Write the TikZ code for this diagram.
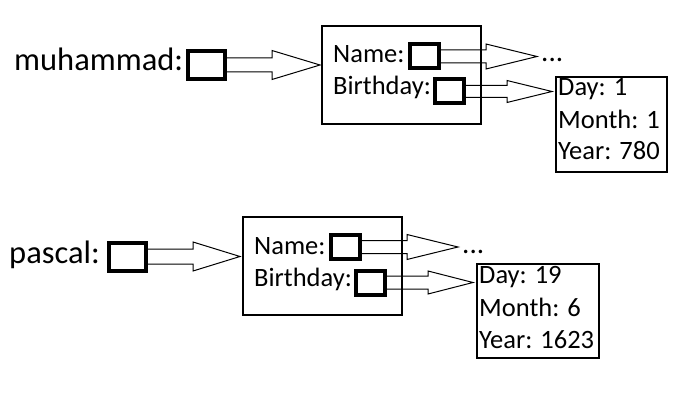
\documentclass[tikz,border=0pt]{standalone}
\usepackage{fontspec}
\setmainfont{Carlito}
\usetikzlibrary{calc}
\newcommand\hollowarrow[5]{%
  \draw[arrowline] let \p1=(#1.east), \p2=(#2) in
    (\x1,\y1+#3) -- (\x2-#5,\y1+#3) -- (\x2-#5,\y1+#4) -- (\x2,\y1)
    -- (\x2-#5,\y1-#4) -- (\x2-#5,\y1-#3) -- (\x1,\y1-#3);}
\begin{document}
\begin{tikzpicture}[x=1pt,y=-1pt,
  ptr/.style={draw,line width=4pt,inner sep=0pt,minimum width=29pt,minimum height=24pt},
  bigptr/.style={ptr,minimum width=37pt,minimum height=28pt},
  frame/.style={draw,line width=1.2pt,inner sep=0pt},
  lbl/.style={anchor=base west,inner sep=0pt,font=\fontsize{26.5}{33}\selectfont},
  dotlbl/.style={lbl,font=\fontsize{29}{33}\selectfont},
  biglbl/.style={lbl,font=\fontsize{32.5}{40}\selectfont},
  arrowline/.style={line width=1pt,line join=miter}]
\useasboundingbox (0,0) rectangle (693,414);

% ---------- muhammad ----------
\node[biglbl] (lm) at (14,71) {muhammad:};
\node[bigptr] (p1) at (206,65) {};
\node[frame,minimum width=159pt,minimum height=98pt] (s1) at (401.5,75) {};
\node[lbl] (nm1) at (333,63) {Name:};
\node[ptr] (n1) at (424.5,56.5) {};
\node[dotlbl] (dots1) at (541,62) {...};
\node[lbl] (bd1) at (333,95) {Birthday:};
\node[ptr] (b1) at (449.5,91.5) {};
\node[frame,minimum width=111pt,minimum height=95pt] (d1) at (611.5,124.5) {};
\node[lbl] (day1) at (558,96) {Day: 1};
\node[lbl] (mon1) at (558,129) {Month: 1};
\node[lbl] (yr1) at (558,160) {Year: 780};
\coordinate (t1) at (320,65);
\coordinate (t2) at (537,56.5);
\coordinate (t3) at (552,91.5);
\hollowarrow{p1}{t1}{7pt}{14.5pt}{48pt}
\hollowarrow{n1}{t2}{6.5pt}{12.5pt}{51pt}
\hollowarrow{b1}{t3}{6pt}{11pt}{45pt}

% ---------- pascal ----------
\node[biglbl] (lp) at (9,263) {pascal:};
\node[bigptr] (p2) at (127,256.5) {};
\node[frame,minimum width=159pt,minimum height=98pt] (s2) at (322.5,266) {};
\node[lbl] (nm2) at (254,254) {Name:};
\node[ptr] (n2) at (345.5,247) {};
\node[dotlbl] (dots2) at (462,253) {...};
\node[lbl] (bd2) at (254,286) {Birthday:};
\node[ptr] (b2) at (370.5,282.5) {};
\node[frame,minimum width=122pt,minimum height=94pt] (d2) at (538,311) {};
\node[lbl] (day2) at (479,283) {Day: 19};
\node[lbl] (mon2) at (479,316) {Month: 6};
\node[lbl] (yr2) at (479,348) {Year: 1623};
\coordinate (t4) at (240,256.5);
\coordinate (t5) at (458,247);
\coordinate (t6) at (473,282.5);
\hollowarrow{p2}{t4}{7.5pt}{14.5pt}{47pt}
\hollowarrow{n2}{t5}{6.5pt}{12.5pt}{51pt}
\hollowarrow{b2}{t6}{6.5pt}{11.5pt}{45pt}
\end{tikzpicture}
\end{document}
